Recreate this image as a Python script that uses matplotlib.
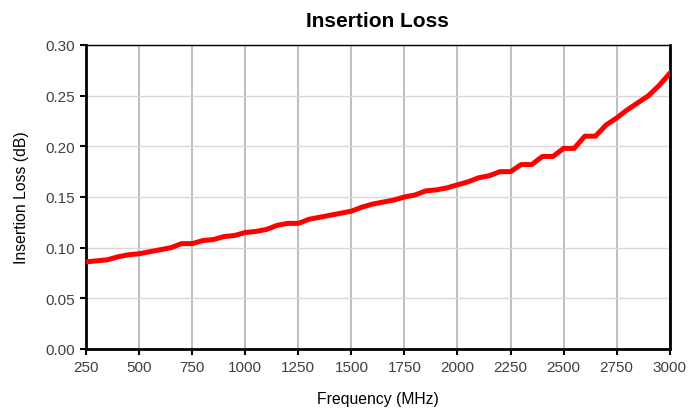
import matplotlib.pyplot as plt

plt.rcParams['font.family'] = ['Liberation Sans', 'DejaVu Sans']

# Data
freq_mhz = [250, 300, 350, 400, 450, 500, 550, 600, 650, 700, 750, 800, 850, 900, 950,
            1000, 1050, 1100, 1150, 1200, 1250, 1300, 1350, 1400, 1450, 1500, 1550,
            1600, 1650, 1700, 1750, 1800, 1850, 1900, 1950, 2000, 2050, 2100, 2150,
            2200, 2250, 2300, 2350, 2400, 2450, 2500, 2550, 2600, 2650, 2700, 2750,
            2800, 2850, 2900, 2950, 3000]
loss_db = [0.086, 0.087, 0.088, 0.091, 0.093, 0.094, 0.096, 0.098, 0.100, 0.104, 0.104,
           0.107, 0.108, 0.111, 0.112, 0.115, 0.116, 0.118, 0.122, 0.124, 0.124, 0.128,
           0.130, 0.132, 0.134, 0.136, 0.140, 0.143, 0.145, 0.147, 0.150, 0.152, 0.156,
           0.157, 0.159, 0.162, 0.165, 0.169, 0.171, 0.175, 0.175, 0.182, 0.182, 0.190,
           0.190, 0.198, 0.198, 0.210, 0.210, 0.221, 0.228, 0.236, 0.243, 0.250, 0.260,
           0.272]
x_ticks = list(range(250, 3001, 250))
y_ticks = [0.00, 0.05, 0.10, 0.15, 0.20, 0.25, 0.30]

fig = plt.figure(figsize=(6.89, 4.14), dpi=100)
ax = fig.add_axes([0.125, 0.1546, 0.847, 0.7343])

ax.plot(freq_mhz, loss_db, color='#ff0000', linewidth=3.6, solid_joinstyle='round', zorder=3)

ax.set_xlim(250, 3000)
ax.set_ylim(0, 0.30)
ax.set_xticks(x_ticks)
ax.set_yticks(y_ticks)
ax.set_yticklabels([f'{v:.2f}' for v in y_ticks])

ax.xaxis.grid(True, color='#c0c0c0', linewidth=1.5)
ax.yaxis.grid(True, color='#d9d9d9', linewidth=1.0)
ax.set_axisbelow(True)

for side in ['left', 'bottom', 'right']:
    ax.spines[side].set_linewidth(2.0)
ax.spines['top'].set_linewidth(1.0)

ax.tick_params(axis='both', direction='out', length=4, width=1.5, labelsize=11,
               labelcolor='#404040', pad=4)
ax.tick_params(axis='y', right=False)

ax.set_title('Insertion Loss', fontsize=15, fontweight='bold', pad=14)
ax.set_xlabel('Frequency (MHz)', fontsize=11.3, labelpad=12)
ax.set_ylabel('Insertion Loss (dB)', fontsize=11.3, labelpad=12)

plt.savefig('out.png')
